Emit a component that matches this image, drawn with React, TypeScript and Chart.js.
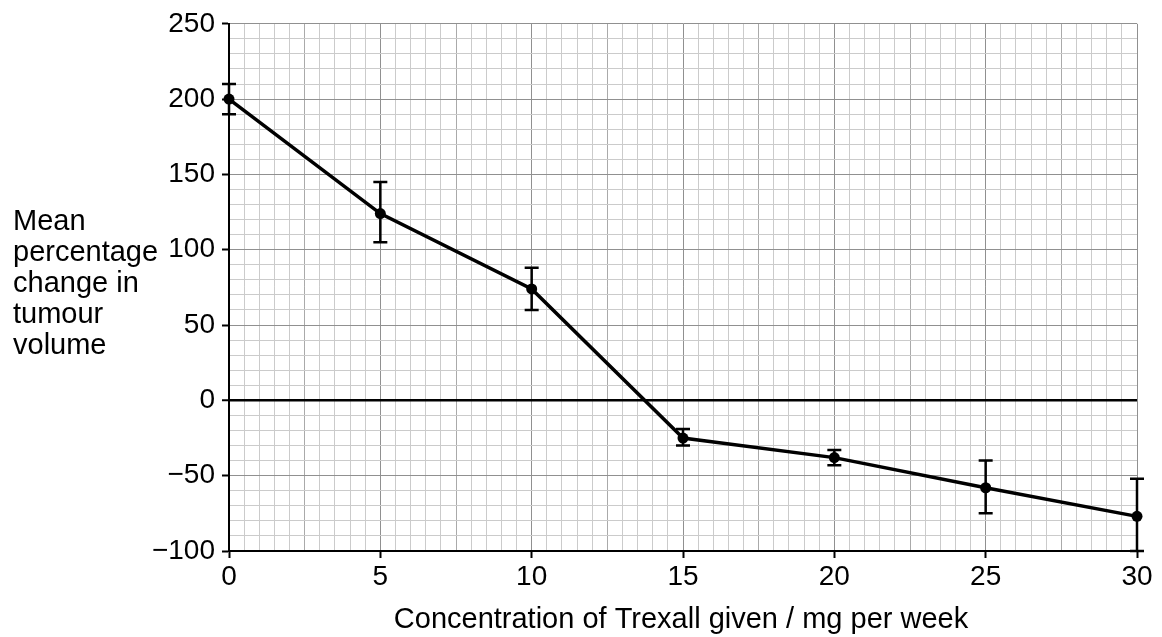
import React, { useEffect, useRef } from 'react';
import { Chart, registerables } from 'chart.js';

Chart.register(...registerables);

// ---- data ----
const concentrations = [0, 5, 10, 15, 20, 25, 30];
const meanChange = [200, 124, 74, -25, -38, -58, -77];
const errorLow = [190, 105, 60, -30, -43, -75, -100];
const errorHigh = [210, 145, 88, -19, -33, -40, -52];
const xTickLabels = [0, 5, 10, 15, 20, 25, 30];
const yTickLabels = [-100, -50, 0, 50, 100, 150, 200, 250];
const yTitleLines = ['Mean', 'percentage', 'change in', 'tumour', 'volume'];
const xTitle = 'Concentration of Trexall given / mg per week';

const FONT = '"Liberation Sans", Arial, Helvetica, sans-serif';

const near = (v: number, m: number) => Math.abs(v / m - Math.round(v / m)) < 1e-6;

const errorBarPlugin = {
  id: 'errorBars',
  afterDatasetsDraw(chart: any) {
    const { ctx, scales } = chart;
    const xs = scales.x;
    const ys = scales.y;
    ctx.save();
    ctx.strokeStyle = '#000';
    ctx.lineWidth = 2.5;
    const cap = 7;
    concentrations.forEach((c, i) => {
      const px = xs.getPixelForValue(c);
      const pLo = ys.getPixelForValue(errorLow[i]);
      const pHi = ys.getPixelForValue(errorHigh[i]);
      ctx.beginPath();
      ctx.moveTo(px, pLo);
      ctx.lineTo(px, pHi);
      ctx.moveTo(px - cap, pLo);
      ctx.lineTo(px + cap, pLo);
      ctx.moveTo(px - cap, pHi);
      ctx.lineTo(px + cap, pHi);
      ctx.stroke();
    });
    ctx.restore();
  },
};

const titlesPlugin = {
  id: 'axisTitles',
  afterDraw(chart: any) {
    const { ctx, chartArea } = chart;
    ctx.save();
    ctx.fillStyle = '#000';
    ctx.font = `29px ${FONT}`;
    ctx.textAlign = 'left';
    ctx.textBaseline = 'alphabetic';
    yTitleLines.forEach((line, i) => {
      ctx.fillText(line, 13, 230 + i * 31);
    });
    ctx.textAlign = 'center';
    ctx.fillText(xTitle, (chartArea.left + chartArea.right) / 2 - 2, 628);
    ctx.restore();
  },
};

function gridColor(v: number, major: number, mid: number | null) {
  if (near(v, major)) return '#909090';
  if (mid !== null && near(v, mid)) return '#aaaaaa';
  return '#cbcbcb';
}

export default function App() {
  const ref = useRef<HTMLCanvasElement | null>(null);

  useEffect(() => {
    if (!ref.current) return;
    const chart = new Chart(ref.current, {
      type: 'line',
      data: {
        datasets: [
          {
            data: concentrations.map((c, i) => ({ x: c, y: meanChange[i] })),
            borderColor: '#000',
            backgroundColor: '#000',
            borderWidth: 3.5,
            pointRadius: 5.5,
            pointBackgroundColor: '#000',
            pointBorderColor: '#000',
            pointBorderWidth: 0,
            tension: 0,
            fill: false,
            clip: false,
          },
        ],
      },
      options: {
        responsive: false,
        animation: false,
        events: [],
        layout: { padding: { left: 0, right: 25, top: 22, bottom: 0 } },
        plugins: {
          legend: { display: false },
          tooltip: { enabled: false },
          title: { display: false },
        },
        scales: {
          x: {
            type: 'linear',
            min: 0,
            max: 30,
            afterFit(scale: any) {
              scale.height = 86;
            },
            ticks: {
              stepSize: 0.5,
              autoSkip: false,
              maxRotation: 0,
              padding: 2,
              color: '#000',
              font: { family: FONT, size: 28 },
              callback: (v: any) => {
                const n = Number(v);
                return xTickLabels.some((t) => Math.abs(t - n) < 1e-6) ? String(n) : '';
              },
            },
            grid: {
              color: (ctx: any) => gridColor(ctx.tick.value, 5, 2.5),
              lineWidth: 1,
              drawTicks: true,
              tickLength: 7,
              tickWidth: 2,
              tickColor: (ctx: any) => (near(ctx.tick.value, 5) ? '#000' : 'rgba(0,0,0,0)'),
            },
            border: { display: true, color: '#000', width: 2 },
          },
          y: {
            type: 'linear',
            min: -100,
            max: 250,
            afterFit(scale: any) {
              scale.width = 229;
            },
            ticks: {
              stepSize: 10,
              autoSkip: false,
              padding: 7,
              color: '#000',
              font: { family: FONT, size: 28 },
              callback: (v: any) => {
                const n = Number(v);
                if (!yTickLabels.some((t) => Math.abs(t - n) < 1e-6)) return '';
                return n < 0 ? '\u2212' + Math.abs(n) : String(n);
              },
            },
            grid: {
              color: (ctx: any) => (Math.abs(ctx.tick.value) < 1e-6 ? '#000' : gridColor(ctx.tick.value, 50, null)),
              lineWidth: (ctx: any) => (Math.abs(ctx.tick.value) < 1e-6 ? 2.5 : 1),
              drawTicks: true,
              tickLength: 7,
              tickWidth: 2,
              tickColor: (ctx: any) => (near(ctx.tick.value, 50) ? '#000' : 'rgba(0,0,0,0)'),
            },
            border: { display: true, color: '#000', width: 2 },
          },
        },
      },
      plugins: [errorBarPlugin, titlesPlugin],
    } as any);
    return () => chart.destroy();
  }, []);

  return (
    <div style={{ position: 'fixed', left: 0, top: 0, width: 1162, height: 637, background: '#fff' }}>
      <canvas ref={ref} width={1162} height={637} style={{ display: 'block' }} />
    </div>
  );
}
